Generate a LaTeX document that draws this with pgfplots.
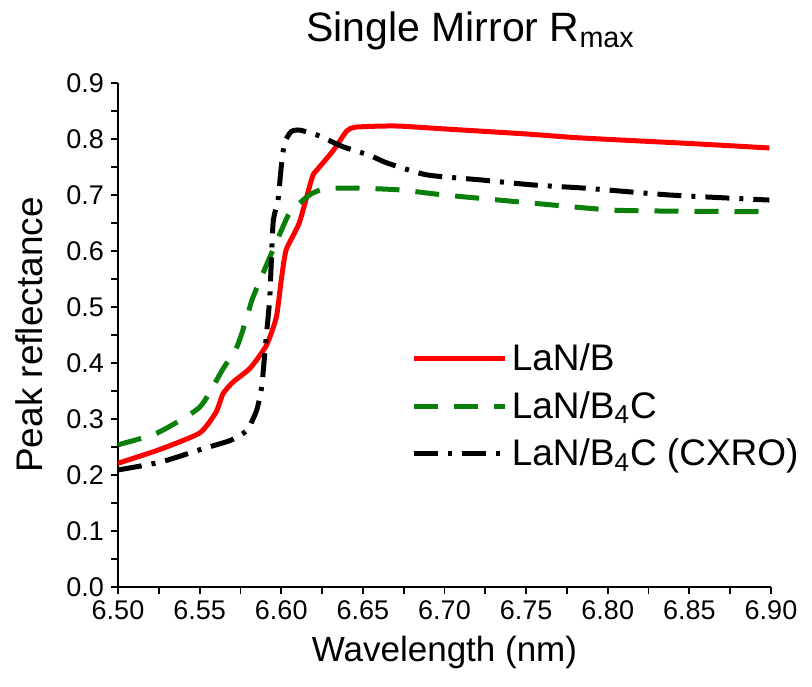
\documentclass[border=0pt]{standalone}
\usepackage{fontspec}
\setmainfont{Liberation Sans}
\usepackage{pgfplots}
\pgfplotsset{compat=1.18}
\definecolor{mirgreen}{HTML}{0A7F0A}
\begin{document}
\begin{tikzpicture}
\begin{axis}[
  name=ax,
  width=326.5pt, height=252pt, scale only axis,
  xmin=6.5, xmax=6.9, ymin=0, ymax=0.9,
  axis x line*=bottom, axis y line*=left,
  axis line style={line width=1pt},
  xtick={6.50,6.55,...,6.90}, ytick={0,0.1,...,0.9},
  minor x tick num=1, minor y tick num=1,
  tick align=outside,
  major tick length=3.5pt, minor tick length=3.5pt,
  tick style={line width=0.9pt, black},
  xticklabel style={/pgf/number format/.cd, fixed, fixed zerofill, precision=2},
  yticklabel style={/pgf/number format/.cd, fixed, fixed zerofill, precision=1},
  /pgf/number format/assume math mode=true,
  ticklabel style={font=\fontsize{13.5}{15}\selectfont},
  xlabel={Wavelength (nm)}, ylabel={Peak reflectance},
  xlabel style={font=\fontsize{17.5}{20}\selectfont, yshift=-1pt},
  ylabel style={font=\fontsize{18.5}{20}\selectfont, yshift=5pt},
  title={Single Mirror R\textsubscript{max}},
  title style={font=\fontsize{20.5}{24}\selectfont, xshift=13pt, yshift=7pt},
  legend style={at={(0.44,0.50)}, anchor=north west, draw=none, fill=none,
    font=\fontsize{18.5}{24}\selectfont, row sep=5pt},
  legend cell align=left,
  legend image code/.code={\draw[#1] (0cm,0cm) -- (1.6cm,0cm);},
]
\addplot[red, line width=2.5pt, smooth, tension=0.35] coordinates {
(6.500,0.221)(6.525,0.245)(6.550,0.275)(6.5600,0.312)(6.5643,0.345)
(6.5705,0.366)(6.581,0.391)(6.591,0.432)(6.597,0.482)(6.600,0.548)(6.603,0.602)
(6.611,0.650)(6.619,0.732)(6.622,0.745)(6.632,0.780)(6.640,0.814)(6.645,0.821)
(6.660,0.823)(6.673,0.823)(6.70,0.818)(6.75,0.809)(6.783,0.802)(6.85,0.792)(6.899,0.784)};
\addlegendentry{LaN/B}
\addplot[mirgreen, line width=2.5pt, dash pattern=on 12pt off 8pt, smooth, tension=0.35] coordinates {
(6.500,0.254)(6.524,0.275)(6.550,0.321)(6.564,0.388)(6.573,0.430)(6.579,0.482)
(6.582,0.512)(6.587,0.548)(6.601,0.643)(6.605,0.667)(6.613,0.690)(6.619,0.703)(6.628,0.712)
(6.650,0.712)(6.673,0.709)(6.70,0.700)(6.752,0.686)(6.803,0.673)(6.85,0.671)(6.899,0.670)};
\addlegendentry{LaN/B\textsubscript{4}C}
\addplot[black, line width=2.5pt, dash pattern=on 12pt off 5pt on 2pt off 5pt, smooth, tension=0.35] coordinates {
(6.500,0.209)(6.526,0.223)(6.550,0.245)(6.569,0.262)(6.579,0.280)(6.585,0.316)
(6.588,0.357)(6.589,0.387)(6.591,0.453)(6.593,0.518)(6.595,0.650)(6.598,0.691)
(6.600,0.750)(6.602,0.793)(6.606,0.813)(6.611,0.816)(6.622,0.807)(6.638,0.786)
(6.654,0.771)(6.665,0.757)(6.689,0.736)(6.722,0.727)(6.754,0.718)(6.787,0.712)
(6.838,0.700)(6.899,0.691)};
\addlegendentry{LaN/B\textsubscript{4}C (CXRO)}
\end{axis}
\pgfresetboundingbox
\path ([shift={(-59pt,-49.5pt)}]ax.south west) rectangle ([shift={(20.5pt,41.5pt)}]ax.north east);
\end{tikzpicture}
\end{document}
